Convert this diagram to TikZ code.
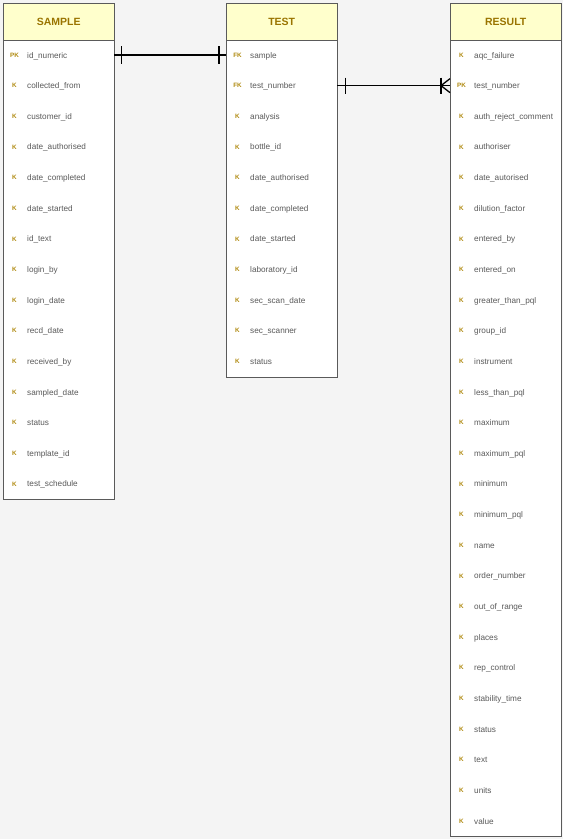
\documentclass[tikz,border=0pt]{standalone}
\usepackage{fontspec}
\setmainfont{Liberation Sans}
\usetikzlibrary{calc}
\definecolor{bggray}{HTML}{F4F4F4}
\definecolor{hdyellow}{HTML}{FFFFCC}
\definecolor{hdgold}{HTML}{9A7400}
\definecolor{kygold}{HTML}{B08A10}
\definecolor{txgray}{HTML}{5A5A5A}
\definecolor{bdgray}{HTML}{5A5A5A}
\tikzset{
  >= latex,
  hd/.style={draw=bdgray, fill=hdyellow, minimum width=111pt, minimum height=37pt,
    inner sep=0pt, anchor=north west, text=hdgold, font=\bfseries\fontsize{10.5}{12}\selectfont},
  bd/.style={draw=bdgray, fill=white, minimum width=111pt, minimum height=#1,
    inner sep=0pt, anchor=north west},
  ky/.style={inner sep=0pt, minimum height=6pt, text=kygold, font=\bfseries\fontsize{6.3}{7}\selectfont},
  fl/.style={inner sep=0pt, anchor=base west, text=txgray, font=\fontsize{8.2}{9}\selectfont},
  rel/.style={draw=black, line width=1.3pt}
}
\begin{document}
\begin{tikzpicture}[x=1pt, y=-1pt]
  \fill[bggray] (0,0) rectangle (563,839);
  \useasboundingbox (0,0) rectangle (563,839);

  % tables
  \node[bd=459pt] (sample) at (3,40) {};
  \node[hd] (sample-h) at (3,3) {SAMPLE};
  \foreach \k/\f [count=\i] in {PK/id\_numeric, K/collected\_from, K/customer\_id,
      K/date\_authorised, K/date\_completed, K/date\_started, K/id\_text, K/login\_by,
      K/login\_date, K/recd\_date, K/received\_by, K/sampled\_date, K/status,
      K/template\_id, K/test\_schedule}
  {
    \node[ky] (sample-k\i) at (14.5,{55+(\i-1)*30.64}) {\k};
    \node[fl] (sample-\i) at (27,{58+(\i-1)*30.64}) {\f};
  }

  \node[bd=337pt] (test) at (226,40) {};
  \node[hd] (test-h) at (226,3) {TEST};
  \foreach \k/\f [count=\i] in {FK/sample, FK/test\_number, K/analysis, K/bottle\_id,
      K/date\_authorised, K/date\_completed, K/date\_started, K/laboratory\_id,
      K/sec\_scan\_date, K/sec\_scanner, K/status}
  {
    \node[ky] (test-k\i) at (237.5,{55+(\i-1)*30.64}) {\k};
    \node[fl] (test-\i) at (250,{58+(\i-1)*30.64}) {\f};
  }

  \node[bd=796pt] (result) at (450,40) {};
  \node[hd] (result-h) at (450,3) {RESULT};
  \foreach \k/\f [count=\i] in {K/aqc\_failure, PK/test\_number, K/auth\_reject\_comment,
      K/authoriser, K/date\_autorised, K/dilution\_factor, K/entered\_by, K/entered\_on,
      K/greater\_than\_pql, K/group\_id, K/instrument, K/less\_than\_pql, K/maximum,
      K/maximum\_pql, K/minimum, K/minimum\_pql, K/name, K/order\_number,
      K/out\_of\_range, K/places, K/rep\_control, K/stability\_time, K/status,
      K/text, K/units, K/value}
  {
    \node[ky] (result-k\i) at (461.5,{55+(\i-1)*30.64}) {\k};
    \node[fl] (result-\i) at (474,{58+(\i-1)*30.64}) {\f};
  }

  % relations
  \coordinate (r1a) at (sample.east |- sample-k1);
  \coordinate (r1b) at (test.west |- test-k1);
  \draw[rel] (r1a) -- (r1b);
  \draw[rel] ($(r1a)+(7,-9)$) -- ++(0,18);
  \draw[rel] ($(r1b)+(-7,-9)$) -- ++(0,18);

  \coordinate (r2a) at (test.east |- test-k2);
  \coordinate (r2b) at (result.west |- result-k2);
  \draw[rel] (r2a) -- (r2b);
  \draw[rel] ($(r2a)+(8,-8)$) -- ++(0,16);
  \draw[rel] ($(r2b)+(-9,-8)$) -- ++(0,16);
  \draw[rel] ($(r2b)+(0,-7)$) -- ($(r2b)+(-9,0)$) -- ($(r2b)+(0,7)$);
\end{tikzpicture}
\end{document}
